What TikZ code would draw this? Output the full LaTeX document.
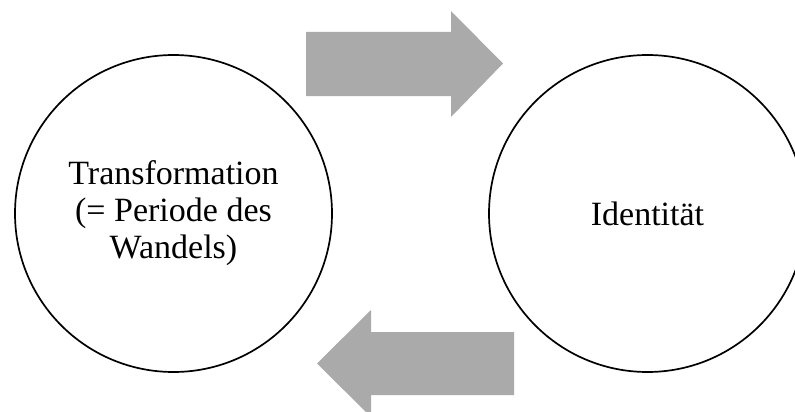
\documentclass[tikz,border=0pt]{standalone}
\usepackage{fontspec}
\setmainfont{Liberation Serif}
\definecolor{arrowgray}{HTML}{AAAAAA}
\tikzset{
  ring/.style={circle, draw=black, line width=1.7pt, minimum size=317pt, inner sep=0pt,
    align=center, font=\fontsize{34}{37}\selectfont},
  bigarrow/.style={fill=arrowgray, draw=none}
}
\begin{document}
\begin{tikzpicture}[x=1pt,y=-1pt]
\useasboundingbox (0,0) rectangle (795,412);
\node[ring] (trans) at (173.5,213.5) {Transformation\\(= Periode des\\Wandels)};
\node[ring] (ident) at (647.5,213.5) {Identität};
% top arrow (pointing right)
\fill[bigarrow] (306,32) -- (451,32) -- (451,11) -- (503,63.5) -- (451,117) -- (451,96) -- (306,96) -- cycle;
% bottom arrow (pointing left)
\fill[bigarrow] (514,332) -- (371,332) -- (371,310) -- (317,363.5) -- (371,417) -- (371,395) -- (514,395) -- cycle;
\end{tikzpicture}
\end{document}
